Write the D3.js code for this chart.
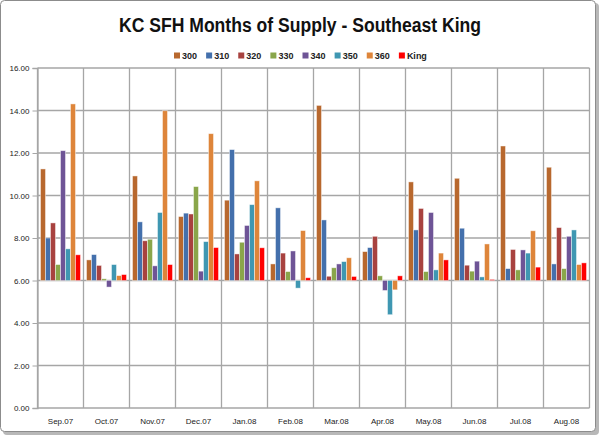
<!DOCTYPE html>
<html><head><meta charset="utf-8">
<script src="https://cdn.jsdelivr.net/npm/d3@7/dist/d3.min.js"></script>
<style>body{margin:0;background:#fff}svg{display:block}text{font-family:"Liberation Sans",Arial,sans-serif}</style>
</head><body><svg id="c" width="600" height="436"></svg>
<script>
const categories = ["Sep.07","Oct.07","Nov.07","Dec.07","Jan.08","Feb.08","Mar.08","Apr.08","May.08","Jun.08","Jul.08","Aug.08"];
const seriesNames = ["300","310","320","330","340","350","360","King"];
const s300  = [11.25,6.97,10.92,9.01,9.78,6.78,14.24,7.36,10.64,10.81,12.33,11.33];
const s310  = [8.00,7.22,8.76,9.17,12.16,9.42,8.85,7.55,8.38,8.46,6.56,6.78];
const s320  = [8.71,6.71,7.87,9.13,7.25,7.29,6.20,8.08,9.39,6.72,7.46,8.49];
const s330  = [6.75,6.08,7.94,10.42,7.80,6.42,6.60,6.22,6.42,6.44,6.50,6.56];
const s340  = [12.11,5.69,6.69,6.44,8.59,7.39,6.78,5.53,9.20,6.91,7.44,8.08];
const s350  = [7.49,6.75,9.20,7.83,9.57,5.64,6.89,4.39,6.50,6.17,7.29,8.38];
const s360  = [14.31,6.23,13.99,12.91,10.69,8.35,7.07,5.56,7.29,7.72,8.34,6.75];
const sKing = [7.21,6.28,6.75,7.55,7.54,6.13,6.19,6.22,6.97,6.05,6.63,6.83];
const yTicks = [0,2,4,6,8,10,12,14,16];
const baseValue = 6;
const colors = ["#B8682E","#4470AC","#A8423F","#8AA64A","#6E5496","#3F97B2","#DE853A","#FF0000"];
const allSeries = [s300,s310,s320,s330,s340,s350,s360,sKing];

const svg = d3.select("#c");
// chart frame + shadow
svg.append("rect").attr("x",3).attr("y",3).attr("width",596).attr("height",432).attr("rx",4).attr("fill","#b8b8b8");
svg.append("rect").attr("x",0.5).attr("y",0.5).attr("width",595).attr("height",431).attr("rx",4).attr("fill","#fff").attr("stroke","#8c8c8c");

const L=37.5,R=589.5,T=68,B=408;
const x0 = d3.scaleBand().domain(categories).range([L,R]).padding(0);
const x1 = d3.scaleBand().domain(seriesNames).range([0,x0.bandwidth()]).paddingInner(0).paddingOuter(0.6);
const y = d3.scaleLinear().domain([0,16]).range([B,T]);

// horizontal gridlines
svg.append("g").selectAll("line").data(yTicks).join("line")
  .attr("x1",L).attr("x2",R).attr("y1",d=>y(d)).attr("y2",d=>y(d))
  .attr("stroke","#a6a6a6").attr("stroke-width",1.3);
// vertical gridlines at category boundaries
const bounds = categories.map(c=>x0(c)).concat([R]);
svg.append("g").selectAll("line").data(bounds).join("line")
  .attr("x1",d=>d).attr("x2",d=>d).attr("y1",T).attr("y2",B)
  .attr("stroke","#a6a6a6").attr("stroke-width",1.3);

// y axis
const yAxis = d3.axisLeft(y).tickValues(yTicks).tickFormat(d3.format(".2f")).tickSize(5).tickPadding(3);
const gy = svg.append("g").attr("transform",`translate(${L},0)`).call(yAxis);
gy.select(".domain").attr("stroke","#a6a6a6").attr("stroke-width",1.3);
gy.selectAll(".tick line").attr("stroke","#a6a6a6");
gy.selectAll("text").attr("font-size",8).attr("fill","#222");

// x axis labels
const xAxis = d3.axisBottom(x0).tickSize(0).tickPadding(10);
const gx = svg.append("g").attr("transform",`translate(0,${B})`).call(xAxis);
gx.select(".domain").remove();
gx.selectAll("text").attr("font-size",8).attr("fill","#222");

// bars
const rows = [];
allSeries.forEach((s,si)=>s.forEach((v,ci)=>rows.push({c:categories[ci],s:seriesNames[si],v,si})));
svg.append("g").selectAll("rect").data(rows).join("rect")
  .attr("x",d=>x0(d.c)+x1(d.s))
  .attr("width",x1.bandwidth())
  .attr("y",d=>y(Math.max(d.v,baseValue)))
  .attr("height",d=>Math.abs(y(d.v)-y(baseValue)))
  .attr("fill",d=>colors[d.si])
  .attr("stroke","rgba(255,255,255,0.55)").attr("stroke-width",0.8);

// title
svg.append("text").attr("x",300).attr("y",32).attr("text-anchor","middle")
  .attr("font-size",20).attr("font-weight","bold").attr("fill","#111")
  .attr("textLength",362).attr("lengthAdjust","spacingAndGlyphs")
  .text("KC SFH Months of Supply - Southeast King");

// legend
const lg = svg.append("g");
const lx = d3.scaleBand().domain(seriesNames).range([174,431]);
seriesNames.forEach((n,i)=>{
  const gx0 = lx(n);
  lg.append("rect").attr("x",gx0).attr("y",52.5).attr("width",6).attr("height",6).attr("fill",colors[i]);
  lg.append("text").attr("x",gx0+8).attr("y",59).attr("font-size",9).attr("font-weight","bold").attr("fill","#222").text(n);
});
</script></body></html>
